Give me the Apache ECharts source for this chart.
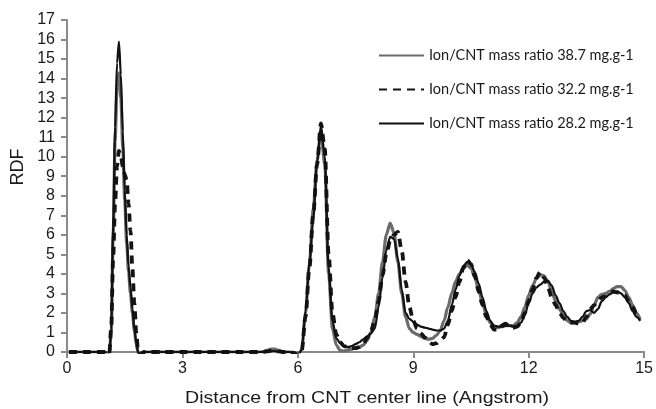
<!DOCTYPE html>
<html><head><meta charset="utf-8">
<script src="https://cdn.jsdelivr.net/npm/echarts@6/dist/echarts.min.js"></script>
<style>html,body{margin:0;padding:0;background:#fff}#c{width:656px;height:409px}</style>
</head><body><div id="c"></div>
<script>
const seriesNames = ['Ion/CNT mass ratio 38.7 mg.g-1', 'Ion/CNT mass ratio 32.2 mg.g-1', 'Ion/CNT mass ratio 28.2 mg.g-1'];
const xTitle = 'Distance from CNT center line (Angstrom)';
const yTitle = 'RDF';
const distance = [0.05, 0.5, 1.0, 1.05, 1.1, 1.15, 1.2, 1.25, 1.3, 1.35,
  1.4, 1.45, 1.5, 1.55, 1.6, 1.65, 1.7, 1.75, 1.8, 1.85,
  1.9, 1.95, 2.0, 2.5, 3.0, 3.5, 4.0, 4.5, 5.0, 5.1,
  5.2, 5.3, 5.4, 5.5, 5.6, 5.7, 5.8, 5.9,
  6.0, 6.1, 6.2, 6.3, 6.4, 6.5, 6.6, 6.7, 6.8, 6.9,
  7.0, 7.1, 7.2, 7.3, 7.4, 7.5, 7.6, 7.7, 7.8, 7.9,
  8.0, 8.1, 8.2, 8.3, 8.4, 8.5, 8.6, 8.7, 8.8, 8.9,
  9.0, 9.1, 9.2, 9.3, 9.4, 9.5, 9.6, 9.7, 9.8, 9.9,
  10.0, 10.1, 10.2, 10.3, 10.4, 10.5, 10.6, 10.7, 10.8, 10.9,
  11.0, 11.1, 11.2, 11.3, 11.4, 11.5, 11.6, 11.7, 11.8, 11.9,
  12.0, 12.1, 12.2, 12.3, 12.4, 12.5, 12.6, 12.7, 12.8, 12.9,
  13.0, 13.1, 13.2, 13.3, 13.4, 13.5, 13.6, 13.7, 13.8, 13.9,
  14.0, 14.1, 14.2, 14.3, 14.4, 14.5, 14.6, 14.7, 14.8, 14.9];
const ratio387 = [0, 0, 0, -0.1, -0.05, 1.0, 6.0, 10.8, 13.6, 14.3,
  13.0, 10.5, 7.8, 5.6, 4.1, 3.0, 2.0, 1.1, 0.4, -0.05,
  -0.12, -0.05, 0, 0, 0, 0, 0, 0, 0, 0.02,
  0.08, 0.15, 0.15, 0.08, 0.02, 0, 0, -0.05,
  -0.15, 0.1, 2.0, 4.5, 7.3, 9.8, 11.3, 9.6, 4.0, 1.2,
  0.35, 0.08, 0.05, 0.1, 0.15, 0.2, 0.25, 0.35, 0.6, 1.0,
  1.8, 3.0, 4.6, 6.0, 6.6, 6.1, 4.6, 3.0, 1.8, 1.2,
  1.0, 0.9, 0.8, 0.7, 0.65, 0.7, 0.85, 1.1, 1.6, 2.3,
  3.0, 3.6, 4.0, 4.3, 4.45, 4.3, 3.8, 3.2, 2.5, 1.9,
  1.5, 1.3, 1.25, 1.3, 1.35, 1.35, 1.35, 1.5, 1.8, 2.3,
  2.9, 3.4, 3.75, 3.95, 3.9, 3.6, 3.1, 2.6, 2.2, 1.85,
  1.6, 1.5, 1.5, 1.55, 1.6, 1.7, 1.95, 2.4, 2.8, 2.95,
  3.0, 3.1, 3.25, 3.35, 3.35, 3.15, 2.8, 2.4, 2.0, 1.65];
const ratio322 = [0, 0, 0, -0.1, -0.05, 1.3, 4.8, 7.6, 9.5, 10.3,
  10.0, 9.5, 9.1, 8.8, 7.6, 6.2, 4.3, 2.5, 1.0, 0,
  -0.12, -0.05, 0, 0, 0, 0, 0, 0, 0, 0,
  0.03, 0.06, 0.06, 0.03, 0, 0, 0, -0.05,
  -0.15, 0.05, 1.8, 4.3, 7.0, 9.6, 11.7, 10.4, 5.0, 2.0,
  0.9, 0.5, 0.3, 0.25, 0.2, 0.2, 0.25, 0.4, 0.7, 1.1,
  1.6, 2.6, 3.9, 5.0, 5.7, 6.0, 6.15, 5.2, 3.6, 2.3,
  1.6, 1.2, 0.95, 0.75, 0.55, 0.4, 0.45, 0.6, 0.75, 1.4,
  2.1, 2.8, 3.6, 4.3, 4.7, 4.5, 3.9, 3.1, 2.4, 1.8,
  1.4, 1.15, 1.15, 1.35, 1.45, 1.3, 1.25, 1.3, 1.5, 2.0,
  2.6, 3.2, 3.8, 4.1, 3.8, 3.3, 2.8, 2.4, 2.0, 1.75,
  1.55, 1.5, 1.5, 1.45, 1.5, 1.8, 2.2, 2.4, 2.6, 2.8,
  2.85, 3.0, 3.1, 3.05, 3.0, 2.9, 2.6, 2.3, 2.0, 1.9];
const ratio282 = [0, 0, 0, -0.12, -0.05, 1.2, 6.5, 11.5, 14.8, 15.9,
  14.2, 11.3, 8.3, 6.0, 4.4, 3.3, 2.2, 1.2, 0.5, -0.05,
  -0.15, -0.08, 0, 0, 0, 0, 0, 0, 0, 0,
  0.02, 0.05, 0.05, 0.02, 0, 0, 0, -0.05,
  -0.15, 0.1, 2.1, 4.5, 6.8, 9.7, 11.6, 10.0, 4.3, 1.6,
  0.7, 0.45, 0.3, 0.25, 0.3, 0.4, 0.5, 0.65, 0.8, 0.95,
  1.2, 2.3, 3.8, 5.2, 5.9, 5.8, 4.8, 3.2, 2.0, 1.7,
  1.55, 1.4, 1.3, 1.25, 1.2, 1.15, 1.1, 1.1, 1.2, 1.6,
  2.4, 3.2, 3.9, 4.4, 4.6, 4.5, 4.1, 3.5, 2.8, 2.1,
  1.6, 1.35, 1.3, 1.3, 1.35, 1.35, 1.3, 1.35, 1.5, 1.9,
  2.5, 3.0, 3.3, 3.45, 3.6, 3.65, 3.4, 2.9, 2.5, 2.1,
  1.8, 1.6, 1.55, 1.6, 1.8, 2.1, 2.15, 2.0, 2.2, 2.6,
  2.8, 2.95, 3.05, 3.1, 3.0, 2.8, 2.5, 2.1, 1.8, 1.6];

const pairs = arr => distance.map((x, i) => [x, arr[i]]);
const chart = echarts.init(document.getElementById('c'), null, {renderer: 'canvas'});
const axisGray = '#8a8a8a';
const labelFont = {color: '#1a1a1a', fontSize: 16, fontFamily: 'Liberation Sans'};
chart.setOption({
  animation: false,
  backgroundColor: '#fff',
  grid: {left: 67, right: 11, top: 20, bottom: 57, containLabel: false},
  xAxis: {
    type: 'value', min: 0, max: 15, interval: 3,
    axisLine: {show: true, onZero: false, lineStyle: {color: axisGray, width: 2}},
    axisTick: {show: true, inside: false, length: 6, lineStyle: {color: axisGray, width: 2}},
    axisLabel: Object.assign({margin: 9}, labelFont),
    splitLine: {show: false}
  },
  yAxis: {
    type: 'value', min: 0, max: 17, interval: 1,
    axisLine: {show: true, onZero: false, lineStyle: {color: axisGray, width: 2}},
    axisTick: {show: true, inside: false, length: 6, lineStyle: {color: axisGray, width: 2}},
    axisLabel: Object.assign({margin: 12}, labelFont),
    splitLine: {show: false}
  },
  legend: {
    orient: 'vertical', left: 378, top: 48, padding: 0,
    itemWidth: 45, itemHeight: 14, itemGap: 19,
    itemStyle: {opacity: 0},
    data: seriesNames,
    textStyle: {color: '#1a1a1a', fontSize: 14.5, fontFamily: 'Lato', padding: [0, 0, 0, 0]}
  },
  graphic: [
    {type: 'text', x: 367, y: 398, scaleX: 1.15, style: {text: xTitle, fontSize: 17, fontFamily: 'Liberation Sans', fill: '#1a1a1a', align: 'center', verticalAlign: 'middle'}},
    {type: 'text', rotation: Math.PI / 2, x: 18, y: 167, style: {text: yTitle, fontSize: 18, fontFamily: 'Liberation Sans', fill: '#1a1a1a', align: 'center', verticalAlign: 'middle'}}
  ],
  series: [
    {name: seriesNames[0], type: 'line', data: pairs(ratio387), symbol: 'none', smooth: 0.3, smoothMonotone: 'x',
     lineStyle: {color: '#6b6b6b', width: 3.2}, itemStyle: {color: '#6b6b6b'}},
    {name: seriesNames[1], type: 'line', data: pairs(ratio322), symbol: 'none', smooth: 0.3, smoothMonotone: 'x',
     lineStyle: {color: '#141414', width: 3.8, type: [8, 6]}, itemStyle: {color: '#141414'}},
    {name: seriesNames[2], type: 'line', data: pairs(ratio282), symbol: 'none', smooth: 0.3, smoothMonotone: 'x',
     lineStyle: {color: '#111', width: 2.2}, itemStyle: {color: '#111'}}
  ]
});
</script></body></html>
